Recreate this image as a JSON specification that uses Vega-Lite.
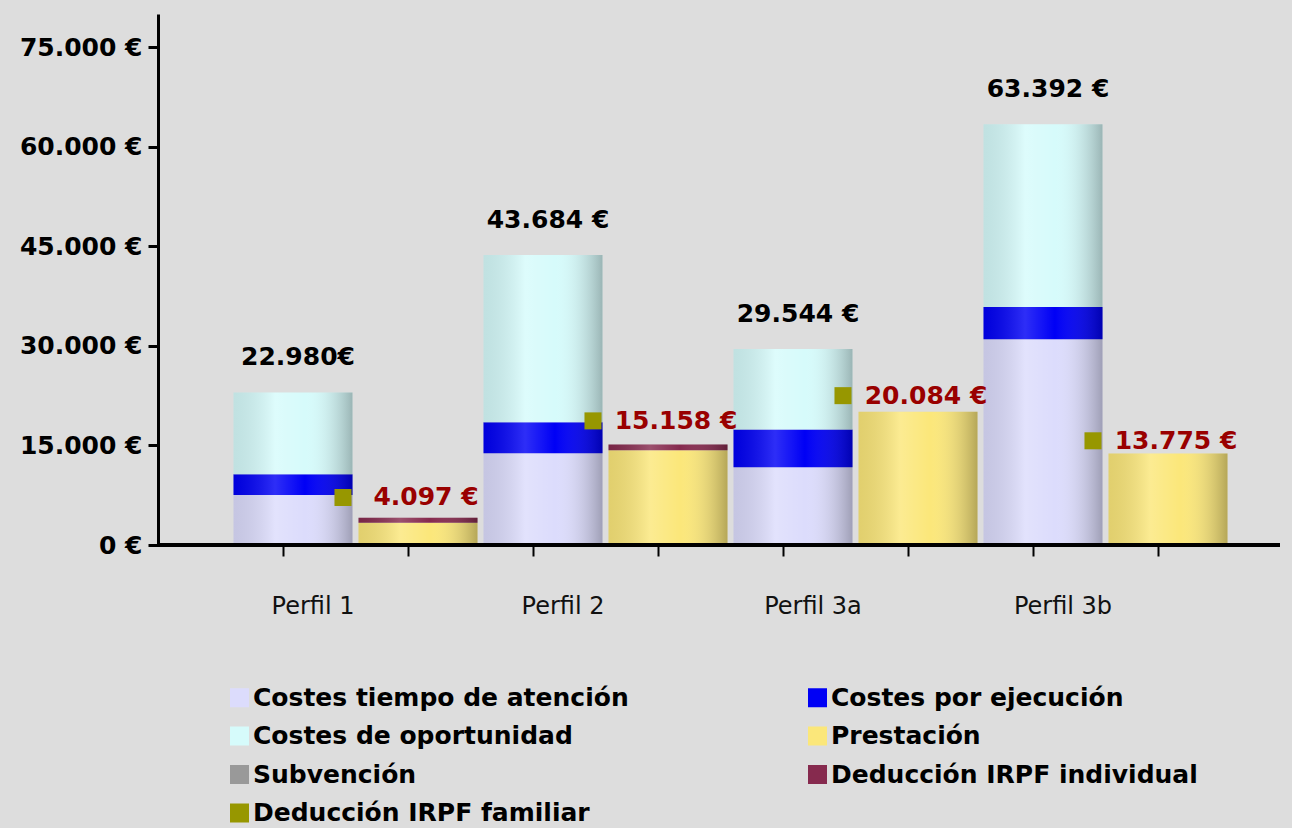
{
  "$schema": "https://vega.github.io/schema/vega-lite/v6.json",
  "width": 1122,
  "height": 531,
  "autosize": {"type": "none"},
  "padding": {"left": 158, "top": 14, "right": 12, "bottom": 283},
  "background": "#dddddd",
  "config": {"view": {"stroke": null}, "font": "DejaVu Sans"},
  "datasets": {
    "segmentos": [
      {"columna": "Perfil 1|Costes", "serie": "Costes tiempo de atención", "valor": 7540, "orden": 1},
      {"columna": "Perfil 1|Costes", "serie": "Costes por ejecución", "valor": 3120, "orden": 2},
      {"columna": "Perfil 1|Costes", "serie": "Costes de oportunidad", "valor": 12320, "orden": 3},
      {"columna": "Perfil 1|Prestación", "serie": "Prestación", "valor": 3350, "orden": 1},
      {"columna": "Perfil 1|Prestación", "serie": "Deducción IRPF individual", "valor": 747, "orden": 2},
      {"columna": "Perfil 2|Costes", "serie": "Costes tiempo de atención", "valor": 13820, "orden": 1},
      {"columna": "Perfil 2|Costes", "serie": "Costes por ejecución", "valor": 4680, "orden": 2},
      {"columna": "Perfil 2|Costes", "serie": "Costes de oportunidad", "valor": 25184, "orden": 3},
      {"columna": "Perfil 2|Prestación", "serie": "Prestación", "valor": 14258, "orden": 1},
      {"columna": "Perfil 2|Prestación", "serie": "Deducción IRPF individual", "valor": 900, "orden": 2},
      {"columna": "Perfil 3a|Costes", "serie": "Costes tiempo de atención", "valor": 11700, "orden": 1},
      {"columna": "Perfil 3a|Costes", "serie": "Costes por ejecución", "valor": 5700, "orden": 2},
      {"columna": "Perfil 3a|Costes", "serie": "Costes de oportunidad", "valor": 12144, "orden": 3},
      {"columna": "Perfil 3a|Prestación", "serie": "Prestación", "valor": 20084, "orden": 1},
      {"columna": "Perfil 3b|Costes", "serie": "Costes tiempo de atención", "valor": 31000, "orden": 1},
      {"columna": "Perfil 3b|Costes", "serie": "Costes por ejecución", "valor": 4840, "orden": 2},
      {"columna": "Perfil 3b|Costes", "serie": "Costes de oportunidad", "valor": 27552, "orden": 3},
      {"columna": "Perfil 3b|Prestación", "serie": "Prestación", "valor": 13775, "orden": 1}
    ],
    "totales": [
      {"columna": "Perfil 1|Costes", "total": 22980, "etiqueta": "22.980€"},
      {"columna": "Perfil 2|Costes", "total": 43684, "etiqueta": "43.684 €"},
      {"columna": "Perfil 3a|Costes", "total": 29544, "etiqueta": "29.544 €"},
      {"columna": "Perfil 3b|Costes", "total": 63392, "etiqueta": "63.392 €"}
    ],
    "familiar": [
      {"columna": "Perfil 1|Costes", "columna_prest": "Perfil 1|Prestación", "deduccion": 7160, "etiqueta": "4.097 €"},
      {"columna": "Perfil 2|Costes", "columna_prest": "Perfil 2|Prestación", "deduccion": 18700, "etiqueta": "15.158 €"},
      {"columna": "Perfil 3a|Costes", "columna_prest": "Perfil 3a|Prestación", "deduccion": 22500, "etiqueta": "20.084 €"},
      {"columna": "Perfil 3b|Costes", "columna_prest": "Perfil 3b|Prestación", "deduccion": 15700, "etiqueta": "13.775 €"}
    ]
  },
  "layer": [
    {
      "data": {"name": "segmentos"},
      "mark": {"type": "bar", "strokeWidth": 0},
      "encoding": {
        "x": {
          "field": "columna", "type": "nominal", "title": null,
          "scale": {
            "domain": ["Perfil 1|Costes", "Perfil 1|Prestación", "Perfil 2|Costes", "Perfil 2|Prestación", "Perfil 3a|Costes", "Perfil 3a|Prestación", "Perfil 3b|Costes", "Perfil 3b|Prestación"],
            "range": [13, 1132], "paddingInner": 0.048, "paddingOuter": 0.5
          },
          "axis": {
            "labelExpr": "indexof(datum.value, '|Costes') > 0 ? split(datum.value, '|')[0] : ''",
            "bandPosition": 0.416, "domain": false, "ticks": true, "tickSize": 11, "tickWidth": 2, "tickColor": "#000000",
            "labelFont": "DejaVu Sans", "labelFontSize": 24, "labelColor": "#111111", "labelPadding": 38, "labelOffset": 20,
            "labelAngle": 0, "labelBaseline": "top", "grid": false, "labelOverlap": false
          }
        },
        "y": {
          "field": "valor", "type": "quantitative", "stack": "zero", "title": null,
          "scale": {"domain": [0, 80000], "nice": false},
          "axis": {
            "values": [0, 15000, 30000, 45000, 60000, 75000],
            "labelExpr": "replace(format(datum.value, ',d'), ',', '.') + ' €'",
            "labelFont": "DejaVu Sans", "labelFontSize": 25, "labelFontWeight": "bold", "labelColor": "#000000",
            "domainColor": "#000000", "domainWidth": 3, "tickColor": "#000000", "tickWidth": 3, "tickSize": 10,
            "labelPadding": 6, "grid": false
          }
        },
        "color": {
          "field": "serie", "type": "nominal",
          "scale": {
            "domain": ["Costes tiempo de atención", "Costes por ejecución", "Costes de oportunidad", "Prestación", "Subvención", "Deducción IRPF individual", "Deducción IRPF familiar"],
            "range": ["#dcdcfc", "#0000f5", "#d6fbfb", "#fbe77a", "#999999", "#862a4e", "#979700"]
          },
          "legend": {
            "title": null, "orient": "none", "legendX": 69, "legendY": 671, "columns": 2, "columnPadding": 176,
            "direction": "horizontal",
            "rowPadding": 12.5, "symbolType": "square", "symbolSize": 361, "symbolStrokeWidth": 0, "symbolOpacity": 1,
            "labelFont": "DejaVu Sans", "labelFontSize": 25, "labelFontWeight": "bold", "labelColor": "#000000",
            "labelLimit": 700, "labelOffset": 1, "padding": 0
          }
        },
        "order": {"field": "orden", "type": "quantitative"}
      }
    },
    {
      "data": {"name": "segmentos"},
      "mark": {
        "type": "bar", "strokeWidth": 0,
        "fill": {
          "gradient": "linear", "x1": 0, "y1": 0, "x2": 1, "y2": 0,
          "stops": [
            {"offset": 0, "color": "rgba(0,0,0,0.10)"},
            {"offset": 0.35, "color": "rgba(255,255,255,0.18)"},
            {"offset": 0.6, "color": "rgba(255,255,255,0.0)"},
            {"offset": 1, "color": "rgba(0,0,0,0.28)"}
          ]
        }
      },
      "encoding": {
        "x": {"field": "columna", "type": "nominal", "title": null},
        "y": {"field": "valor", "type": "quantitative", "stack": "zero", "title": null},
        "detail": {"field": "serie"},
        "order": {"field": "orden", "type": "quantitative"}
      }
    },
    {
      "data": {"values": [{"base": 0}]},
      "mark": {"type": "rule", "strokeWidth": 4, "color": "#000000"},
      "encoding": {"y": {"field": "base", "type": "quantitative", "title": null}}
    },
    {
      "data": {"name": "totales"},
      "mark": {"type": "text", "dy": -35, "dx": 5, "fontSize": 25, "fontWeight": "bold", "font": "DejaVu Sans", "color": "#000000", "baseline": "middle"},
      "encoding": {
        "x": {"field": "columna", "type": "nominal", "title": null},
        "y": {"field": "total", "type": "quantitative", "title": null},
        "text": {"field": "etiqueta"}
      }
    },
    {
      "data": {"name": "familiar"},
      "mark": {"type": "point", "shape": "square", "filled": true, "size": 289, "color": "#979700", "opacity": 1},
      "encoding": {
        "x": {"field": "columna", "type": "nominal", "bandPosition": 0.92, "title": null},
        "y": {"field": "deduccion", "type": "quantitative", "title": null}
      }
    },
    {
      "data": {"name": "familiar"},
      "mark": {"type": "text", "dx": 8, "fontSize": 25, "fontWeight": "bold", "font": "DejaVu Sans", "color": "#990000", "baseline": "middle"},
      "encoding": {
        "x": {"field": "columna_prest", "type": "nominal", "title": null},
        "y": {"field": "deduccion", "type": "quantitative", "title": null},
        "text": {"field": "etiqueta"}
      }
    }
  ]
}
